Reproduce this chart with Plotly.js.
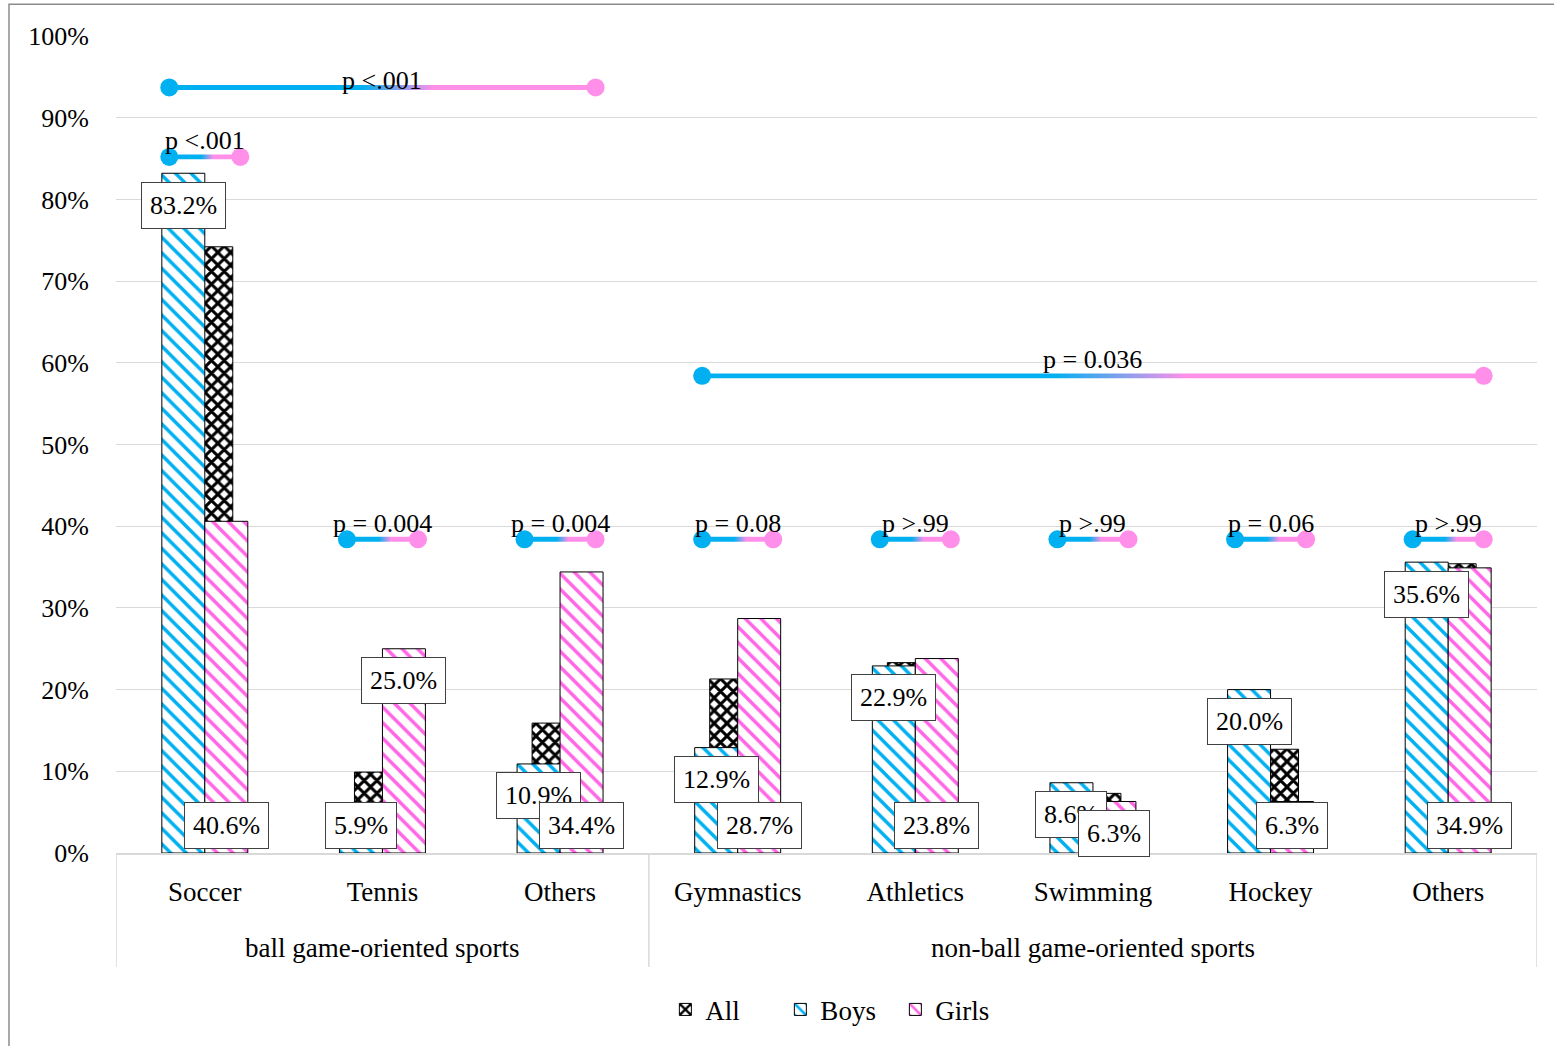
<!DOCTYPE html>
<html>
<head>
<meta charset="utf-8">
<script src="https://cdn.plot.ly/plotly-3.0.1.min.js"></script>
<style>html,body{margin:0;padding:0;background:#fff;}#chart{width:1554px;height:1046px;}</style>
</head>
<body>
<div id="chart"></div>
<script>
// ---- data ----
var groupNames = ['ball game-oriented sports','non-ball game-oriented sports'];
var groupOf = [0, 0, 0, 1, 1, 1, 1, 1];
var sports = ['Soccer','Tennis','Others','Gymnastics','Athletics','Swimming','Hockey','Others'];
var allValues = [74.2, 9.9, 15.9, 21.3, 23.3, 7.3, 12.7, 35.4];
var boysValues = [83.2, 5.9, 10.9, 12.9, 22.9, 8.6, 20.0, 35.6];
var girlsValues = [40.6, 25.0, 34.4, 28.7, 23.8, 6.3, 6.3, 34.9];
var pLabels = ['p <.001','p = 0.004','p = 0.004','p = 0.08','p >.99','p >.99','p = 0.06','p >.99'];
var pLevels = [85.2, 38.4, 38.4, 38.4, 38.4, 38.4, 38.4, 38.4];
var groupPLabels = ['p <.001','p = 0.036'];
var groupPLevels = [93.7, 58.4];
var yTicks = [0,10,20,30,40,50,60,70,80,90,100];
var yTickText = ['0%','10%','20%','30%','40%','50%','60%','70%','80%','90%','100%'];

// ---- style ----
var BLUE = '#00B0F0', PINK = '#FF66E6', PINKL = '#FF8FE8';
var boysLabelPos = ['end','base','end','end','end','end','end','end'];
var girlsLabelPos = ['base','end','base','base','base','end','base','base'];
var groupLabelShift = [7, 16];
var FONT = 'Liberation Serif, Times New Roman, serif';
var barW = 0.242, allW = 0.315;
var DIV = '#d9d9d9';

var idx = sports.map(function(_, i){ return i; });
var traces = [];
traces.push({type:'bar', name:'All', x:idx, y:allValues, offset:-allW/2, width:allW,
  marker:{color:'white', line:{color:'#000', width:1},
    pattern:{shape:'x', fgcolor:'#000', bgcolor:'#fff', size:9, solidity:0.55, fillmode:'replace'}},
  hoverinfo:'skip'});
traces.push({type:'bar', name:'Boys', x:idx, y:boysValues, offset:-barW, width:barW,
  marker:{color:'white', line:{color:'#000', width:1},
    pattern:{shape:'\\', fgcolor:BLUE, bgcolor:'#fff', size:11, solidity:0.32, fillmode:'replace'}},
  hoverinfo:'skip'});
traces.push({type:'bar', name:'Girls', x:idx, y:girlsValues, offset:0, width:barW,
  marker:{color:'white', line:{color:'#000', width:1},
    pattern:{shape:'\\', fgcolor:PINK, bgcolor:'#fff', size:11, solidity:0.32, fillmode:'replace'}},
  hoverinfo:'skip'});

var annotations = [];
function addPLine(x1, x2, yv, label, shift) {
  var h = 0.3;
  traces.push({type:'scatter', x:[x1,x2,x2,x1,x1], y:[yv-h,yv-h,yv+h,yv+h,yv-h],
    mode:'lines', line:{width:0, color:'rgba(0,0,0,0)'}, fill:'toself',
    fillgradient:{type:'horizontal', colorscale:[[0,BLUE],[0.45,BLUE],[0.62,PINKL],[1,PINKL]]},
    showlegend:false, hoverinfo:'skip'});
  traces.push({type:'scatter', x:[x1], y:[yv], mode:'markers',
    marker:{size:18, color:BLUE}, showlegend:false, hoverinfo:'skip'});
  traces.push({type:'scatter', x:[x2], y:[yv], mode:'markers',
    marker:{size:18, color:PINKL}, showlegend:false, hoverinfo:'skip'});
  annotations.push({xref:'x', yref:'y', x:(x1+x2)/2, y:yv, yshift:shift, text:label, showarrow:false,
    font:{family:FONT, size:26, color:'#000'}});
}
for (var i = 0; i < sports.length; i++) addPLine(i-0.2, i+0.2, pLevels[i], pLabels[i], 16);

// group spans derived from groupOf
var shapes = [];
var bounds = [-0.5];
for (var g = 0; g < groupNames.length; g++) {
  var members = idx.filter(function(i){ return groupOf[i] === g; });
  var first = members[0], last = members[members.length-1];
  bounds.push(last + 0.5);
  annotations.push({xref:'x', yref:'paper', x:(first+last)/2, y:-0.1163, yanchor:'middle', text:groupNames[g],
    showarrow:false, font:{family:FONT, size:27, color:'#000'}});
  addPLine(first-0.2, last+0.2, groupPLevels[g], groupPLabels[g], groupLabelShift[g]);
}
bounds.forEach(function(b){
  shapes.push({type:'line', xref:'x', yref:'paper', x0:b, x1:b, y0:0, y1:-0.1395, line:{color:DIV, width:1.5}});
});

function addLabel(xv, v, pos) {
  annotations.push({xref:'x', yref:'y', x:xv, y:(pos === 'base' ? 0 : v), yshift:(pos === 'base' ? 28 : -32),
    text:v.toFixed(1) + '%', showarrow:false, bgcolor:'#fff', bordercolor:'#404040', borderwidth:1, borderpad:8,
    font:{family:FONT, size:26, color:'#000'}});
}
for (var i = 0; i < sports.length; i++) addLabel(i - barW/2, boysValues[i], boysLabelPos[i]);
for (var i = 0; i < sports.length; i++) addLabel(i + barW/2, girlsValues[i], girlsLabelPos[i]);

shapes.push({type:'rect', xref:'paper', yref:'paper', x0:-0.0753, x1:1.02, y0:-0.3, y1:1.039,
  line:{color:'#8c8c8c', width:1.5}, fillcolor:'rgba(0,0,0,0)', layer:'below'});

var layout = {
  width:1554, height:1046,
  margin:{l:116, r:17, t:36, b:193},
  paper_bgcolor:'#fff', plot_bgcolor:'#fff',
  font:{family:FONT, size:26, color:'#000'},
  barmode:'overlay',
  showlegend:true,
  legend:{orientation:'h', x:0.508, xanchor:'center', y:-0.192, yanchor:'middle', font:{size:27},
    traceorder:'normal', entrywidth:70},
  xaxis:{range:[-0.5,7.5], tickvals:idx, ticktext:sports, showline:true, linecolor:DIV, linewidth:1.5,
    ticks:'', showgrid:false, zeroline:false, ticklabelstandoff:14,
    tickfont:{family:FONT, size:27, color:'#000'}},
  yaxis:{range:[0,100], tickvals:yTicks, ticktext:yTickText, showgrid:true, gridcolor:DIV, gridwidth:1,
    zeroline:false, showline:false, ticks:'', ticklabelstandoff:26, tickfont:{family:FONT, size:26, color:'#000'}},
  annotations:annotations,
  shapes:shapes
};
Plotly.newPlot('chart', traces, layout, {displayModeBar:false, staticPlot:true});
</script>
</body>
</html>
